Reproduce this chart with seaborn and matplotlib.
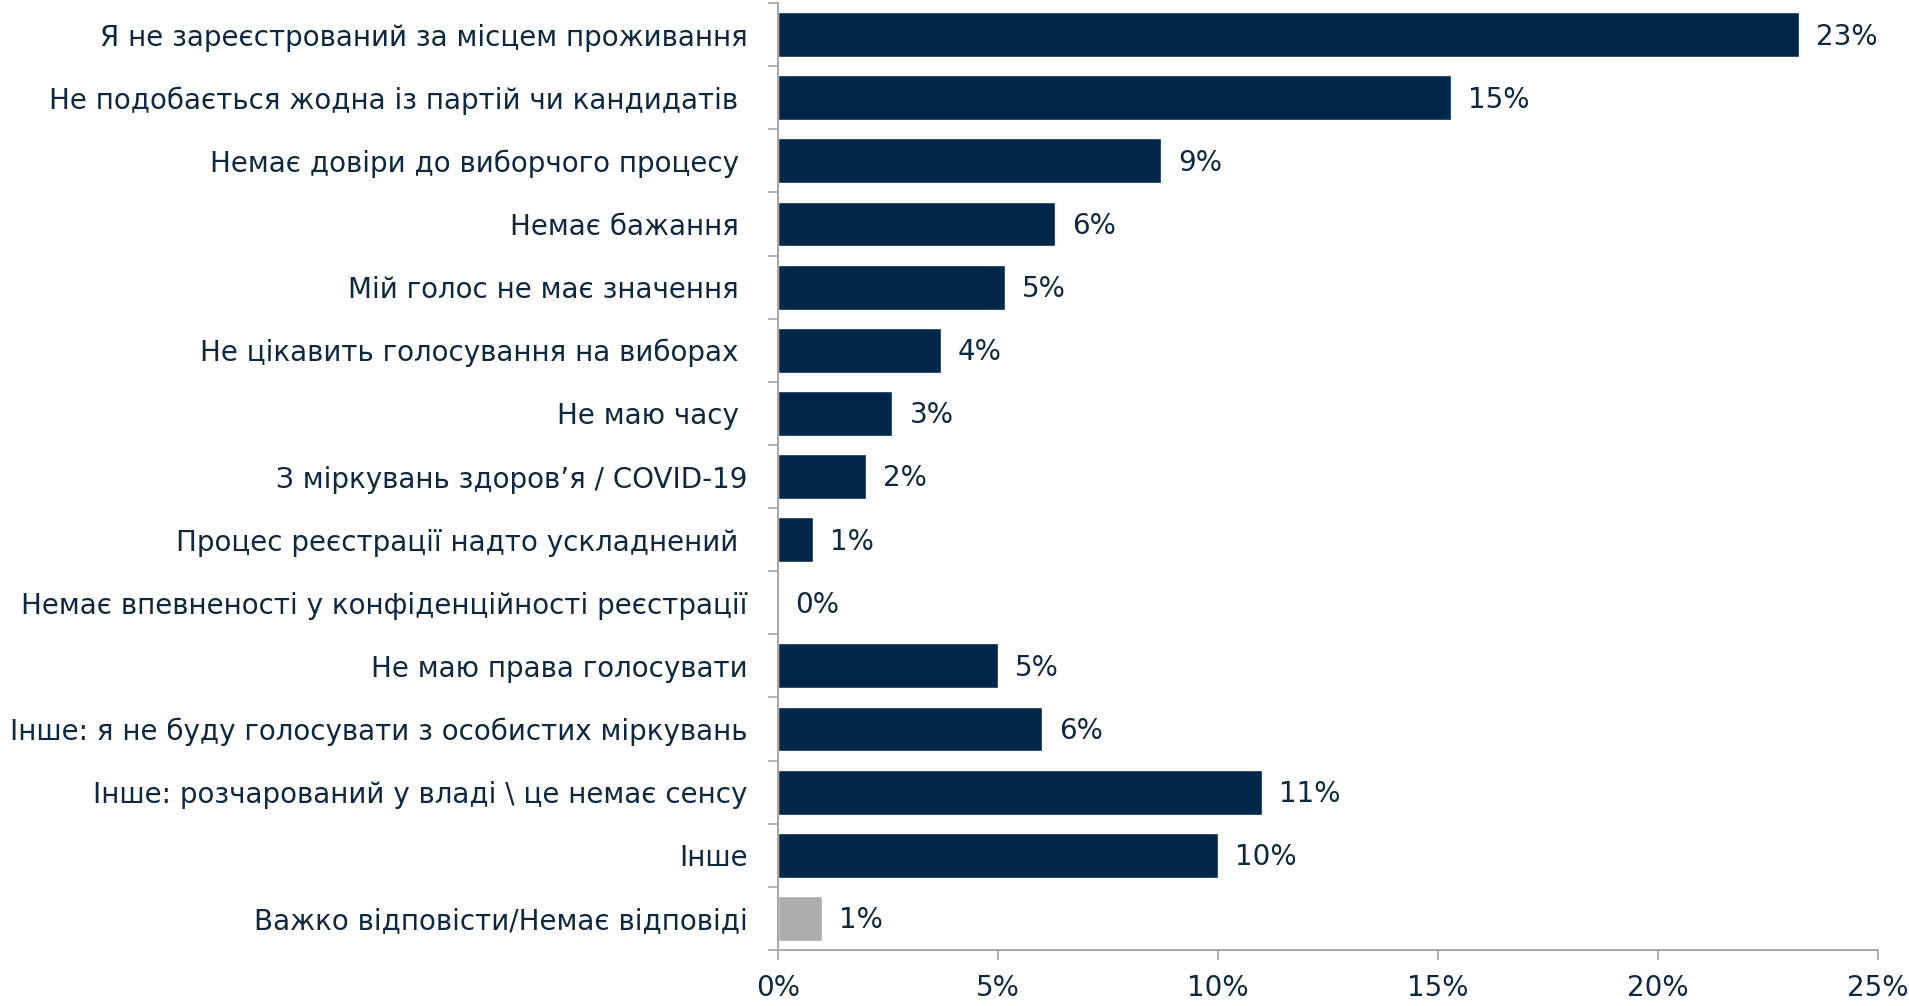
import matplotlib
matplotlib.use("Agg")
import matplotlib.pyplot as plt
import seaborn as sns
import pandas as pd
from matplotlib.ticker import FuncFormatter, FixedLocator

categories = [
    "Я не зареєстрований за місцем проживання",
    "Не подобається жодна із партій чи кандидатів ",
    "Немає довіри до виборчого процесу ",
    "Немає бажання ",
    "Мій голос не має значення ",
    "Не цікавить голосування на виборах ",
    "Не маю часу ",
    "З міркувань здоров’я / COVID-19",
    "Процес реєстрації надто ускладнений ",
    "Немає впевненості у конфіденційності реєстрації",
    "Не маю права голосувати",
    "Інше: я не буду голосувати з особистих міркувань",
    "Інше: розчарований у владі \\ це немає сенсу",
    "Інше",
    "Важко відповісти/Немає відповіді",
]
values = [23.2, 15.3, 8.7, 6.3, 5.15, 3.7, 2.6, 2.0, 0.8, 0.0, 5.0, 6.0, 11.0, 10.0, 1.0]
value_labels = ["23%", "15%", "9%", "6%", "5%", "4%", "3%", "2%", "1%", "0%",
                "5%", "6%", "11%", "10%", "1%"]
groups = ["main"] * 14 + ["dk"]
x_ticks = [0, 5, 10, 15, 20, 25]

NAVY = "#022749"
GRAY_BAR = "#ADADAD"
TEXT = "#0E2841"
AXIS = "#A6A6A6"
FS = 20

sns.set_theme(style="white")
plt.rcParams["font.family"] = ["DejaVu Sans"]

df = pd.DataFrame({"cat": categories, "val": values, "grp": groups})

fig = plt.figure(figsize=(19.09, 10.06), dpi=100)
ax = fig.add_axes([778 / 1909, 1 - 950 / 1006, (1878 - 778) / 1909, (950 - 3) / 1006])

sns.barplot(data=df, y="cat", x="val", hue="grp", palette={"main": NAVY, "dk": GRAY_BAR},
            orient="h", width=0.71, dodge=False, legend=False, ax=ax, saturation=1)

ax.set_xlim(0, 25)
ax.set_ylim(len(categories) - 0.5, -0.5)
ax.set_xlabel("")
ax.set_ylabel("")

for i, (v, lab) in enumerate(zip(values, value_labels)):
    ax.annotate(lab, xy=(v, i), xytext=(17, -2), textcoords="offset pixels",
                va="center", ha="left", fontsize=FS, color=TEXT)

ax.xaxis.set_major_locator(FixedLocator(x_ticks))
ax.xaxis.set_major_formatter(FuncFormatter(lambda x, p: f"{int(round(x))}%"))
ax.tick_params(axis="x", which="major", direction="out", length=7, width=1.2, color=AXIS,
               labelsize=FS, labelcolor=TEXT, pad=10, bottom=True)
ax.tick_params(axis="y", which="major", length=0, labelsize=FS, labelcolor=TEXT, pad=22)
ax.yaxis.set_minor_locator(FixedLocator([i - 0.5 for i in range(len(categories) + 1)]))
ax.tick_params(axis="y", which="minor", direction="out", length=7, width=1.2, color=AXIS, left=True)

for s in ["top", "right"]:
    ax.spines[s].set_visible(False)
for s in ["left", "bottom"]:
    ax.spines[s].set_visible(True)
    ax.spines[s].set_color(AXIS)
    ax.spines[s].set_linewidth(1.4)

ax.grid(False)
fig.savefig("out.png", dpi=100, facecolor="white")
